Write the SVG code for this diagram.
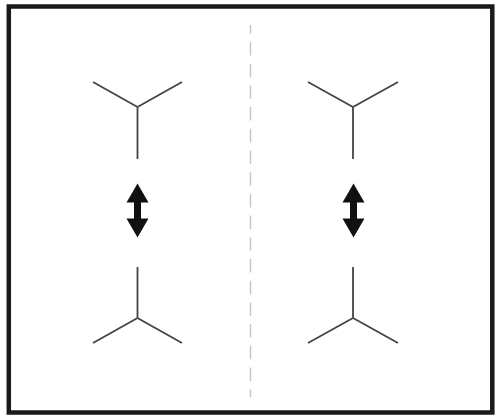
<svg xmlns="http://www.w3.org/2000/svg" width="498" height="418" viewBox="0 0 498 418">
<style>
.y{fill:none;stroke:#444;stroke-width:1.8;stroke-linecap:butt;stroke-linejoin:miter}
.arr{fill:#111;stroke:none}
.div{stroke:#c4c4c4;stroke-width:1.4;stroke-dasharray:13.5 8.2}
</style>
<defs>
<path id="darrow" class="arr" d="M0,-27 L11,-8 L3.5,-8 L3.5,8 L11,8 L0,27 L-11,8 L-3.5,8 L-3.5,-8 L-11,-8 Z"/>
</defs>
<rect x="0" y="0" width="498" height="418" fill="#fff"/>
<rect x="8.8" y="6.5" width="483.5" height="406" fill="#fff" stroke="#1a1a1a" stroke-width="4.5"/>
<g id="divider">
<line class="div" x1="250.5" y1="25" x2="250.5" y2="397" stroke-dashoffset="4.7"/>
</g>
<g id="left-top">
<path class="y" d="M93,82 L137.5,107 L182,82 M137.5,107 L137.5,159"/>
</g>
<g id="left-bottom">
<path class="y" d="M137.5,267 L137.5,318 M93,343 L137.5,318 L182,343"/>
</g>
<g id="right-top">
<path class="y" d="M308,82 L353,107 L398,82 M353,107 L353,159"/>
</g>
<g id="right-bottom">
<path class="y" d="M353,267 L353,318 M308,343 L353,318 L398,343"/>
</g>
<g id="connectors">
<use href="#darrow" x="137.5" y="210.5"/>
<use href="#darrow" x="353.5" y="210.5"/>
</g>
</svg>
